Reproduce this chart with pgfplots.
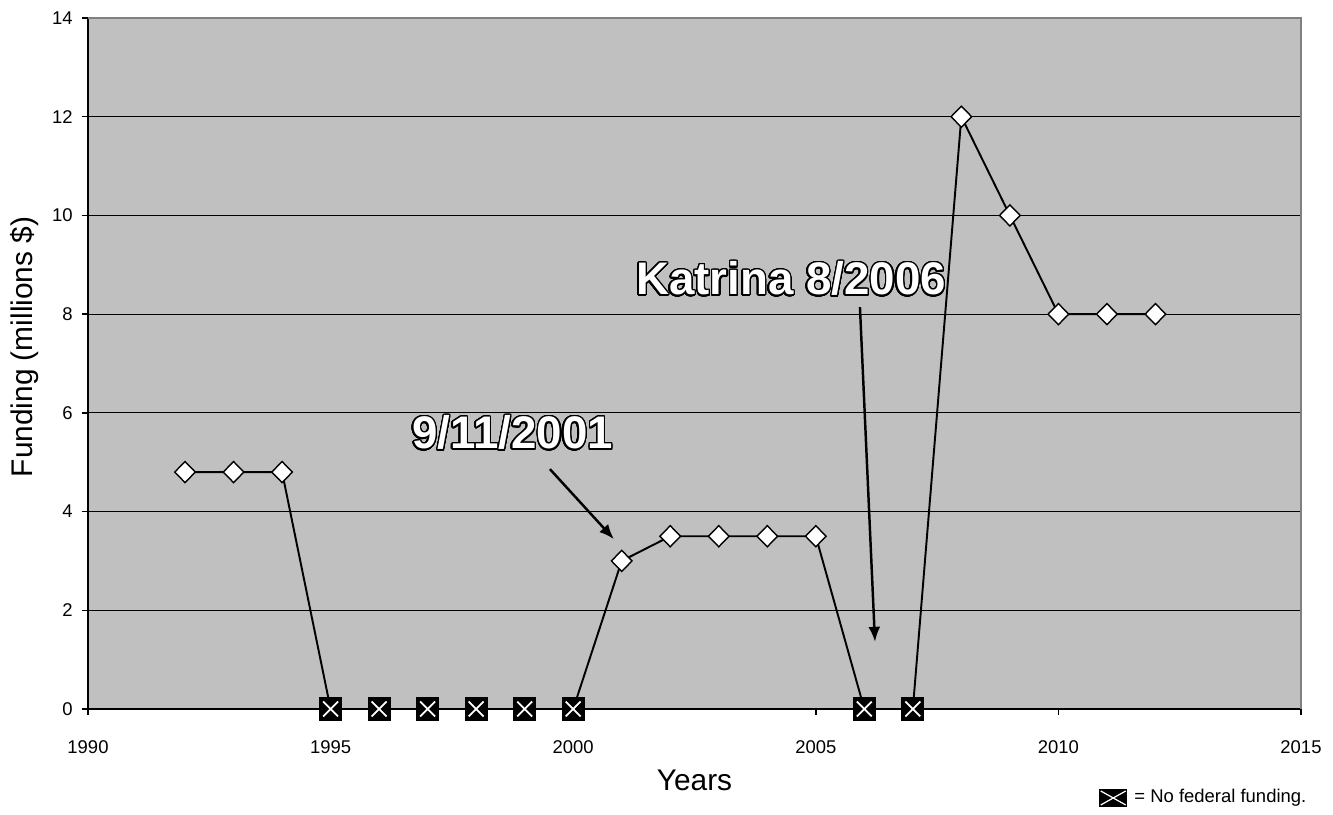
\documentclass[border=0pt]{standalone}
\usepackage{fontspec}
\setmainfont{Liberation Sans}
\usepackage{pgfplots}
\pgfplotsset{compat=1.18}
\usetikzlibrary{arrows.meta}
\usepackage{contour}
\contourlength{0.4pt}
\contournumber{32}
\definecolor{plotbg}{RGB}{192,192,192}
\definecolor{bordergray}{RGB}{128,128,128}
\begin{document}
\begin{tikzpicture}
\path[use as bounding box] (0,0) rectangle (13.33cm,8.15cm);
\begin{axis}[
  at={(0.88cm,1.06cm)}, anchor=south west,
  scale only axis, width=12.13cm, height=6.91cm,
  xmin=1990, xmax=2015, ymin=0, ymax=14,
  xtick={1990,1995,...,2015}, ytick={0,2,...,14},
  axis x line*=bottom, axis y line*=left,
  axis line style={black, line width=0.4pt, -},
  tick align=outside, major tick length=0.06cm,
  tick style={black, line width=0.4pt},
  x tick label style={/pgf/number format/1000 sep={}, font=\fontsize{5.25}{6}\selectfont, yshift=-0.13cm},
  y tick label style={font=\fontsize{5.25}{6}\selectfont, xshift=0.03cm},
  /pgf/number format/assume math mode=true,
  ymajorgrids, grid style={black, line width=0.35pt},
  axis background/.style={fill=plotbg},
  xlabel={Years}, ylabel={Funding (millions \$)},
  label style={font=\fontsize{8.5}{10}\selectfont},
  xlabel style={at={(axis description cs:0.5,-0.103)}, anchor=center},
  ylabel style={at={(axis description cs:-0.0525,0.524)}, anchor=center},
  clip=false,
  legend style={draw=none, fill=none, at={(rel axis cs:0.8335,-0.1288)}, anchor=west,
    font=\fontsize{5.25}{6}\selectfont, inner sep=0pt, outer sep=0pt,
    /tikz/every even column/.append style={column sep=0cm},
    /tikz/every odd column/.append style={column sep=0cm}},
  legend cell align=left,
]
\addplot[black, line width=0.55pt, mark=diamond*, mark size=3.0pt, forget plot,
  mark options={fill=white, draw=black, line width=0.4pt, xscale=1.3}] coordinates {
  (1992,4.8) (1993,4.8) (1994,4.8) (1995,0) (1996,0) (1997,0) (1998,0)
  (1999,0) (2000,0) (2001,3) (2002,3.5) (2003,3.5) (2004,3.5) (2005,3.5)
  (2006,0) (2007,0) (2008,12) (2009,10) (2010,8) (2011,8) (2012,8)};
\addplot[only marks, mark=square*, mark size=3.1pt,
  mark options={fill=black, draw=black},
  legend image code/.code={
    \fill[black] (0cm,-0.08cm) rectangle (0.27cm,0.08cm);
    \draw[white, line width=0.35pt] (0.01cm,-0.07cm) -- (0.26cm,0.07cm)
      (0.01cm,0.07cm) -- (0.26cm,-0.07cm);}] coordinates {
  (1995,0) (1996,0) (1997,0) (1998,0) (1999,0) (2000,0) (2006,0) (2007,0)};
\addlegendentry{= No federal funding.}
\addplot[only marks, mark=x, mark size=3.0pt, forget plot,
  mark options={draw=white, line width=0.5pt}] coordinates {
  (1995,0) (1996,0) (1997,0) (1998,0) (1999,0) (2000,0) (2006,0) (2007,0)};
\draw[bordergray, line width=0.6pt] (rel axis cs:0,1) -- (rel axis cs:1,1) -- (rel axis cs:1,0);
\draw[-{Latex[length=0.15cm,width=0.12cm]}, line width=0.7pt] (axis cs:1999.52,4.86) -- (axis cs:2000.84,3.44);
\draw[-{Latex[length=0.15cm,width=0.12cm]}, line width=0.7pt] (axis cs:2005.91,8.14) -- (axis cs:2006.22,1.36);
\node[font=\bfseries\fontsize{13}{15}\selectfont, text=white] at (axis cs:1998.75,5.58) {\contour{black}{9/11/2001}};
\node[font=\bfseries\fontsize{13}{15}\selectfont, text=white] at (axis cs:2004.49,8.70) {\contour{black}{Katrina 8/2006}};
\end{axis}
\end{tikzpicture}
\end{document}
